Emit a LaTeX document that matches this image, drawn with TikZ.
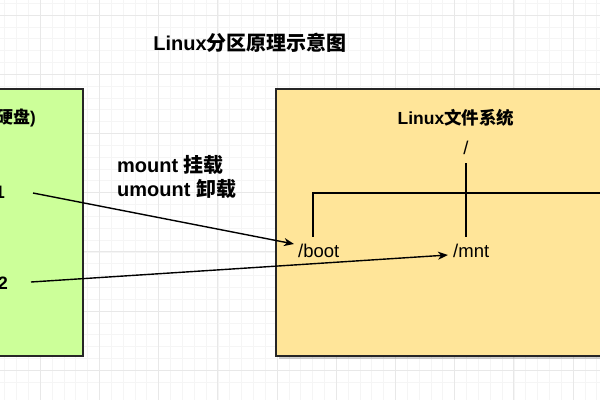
\documentclass[tikz,border=0pt]{standalone}
\usepackage{fontspec}
\setmainfont{Liberation Sans}
\newfontfamily\cjk{Noto Sans CJK SC}
\usetikzlibrary{arrows.meta}
\definecolor{ybox}{HTML}{FFE599}
\definecolor{gbox}{HTML}{CCFF99}
\definecolor{gridmaj}{HTML}{E8E8E8}
\definecolor{gridmin}{HTML}{F5F5F5}
\begin{document}
\begin{tikzpicture}[x=1pt,y=-1pt,
  majgrid/.style={draw=gridmaj, line width=0.8pt},
  mingrid/.style={draw=gridmin, line width=0.6pt},
  boxline/.style={draw=black!85, line width=1.3pt},
  tree/.style={draw=black, line width=1.4pt},
  arr/.style={draw=black, line width=1.4pt, -{Stealth[length=10pt,width=8pt,inset=3pt]}},
  titletxt/.style={inner sep=0pt, font=\fontsize{20}{24}\selectfont\bfseries},
  cmdtxt/.style={inner sep=0pt, font=\fontsize{20}{24}\selectfont\bfseries},
  fstxt/.style={inner sep=0pt, font=\fontsize{17.5}{21}\selectfont\bfseries},
  parttxt/.style={inner sep=0pt, font=\fontsize{18}{22}\selectfont\bfseries},
  pathtxt/.style={inner ysep=0pt, inner xsep=0pt, font=\fontsize{18.5}{22}\selectfont}]
\useasboundingbox (0,0) rectangle (600,400);
\fill[white] (0,0) rectangle (600,400);
% background grid
\begin{scope}
  \clip (0,0) rectangle (600,400);
  \foreach \i in {0,...,55} {
    \draw[mingrid] ({-19+\i*11.84},0) -- ++(0,400);
  }
  \foreach \i in {0,...,36} {
    \draw[mingrid] (0,{-44.2+\i*11.84}) -- ++(600,0);
  }
  \foreach \i in {0,...,11} {
    \draw[majgrid] ({-19+\i*59.2},0) -- ++(0,400);
  }
  \foreach \i in {0,...,7} {
    \draw[majgrid] (0,{-44.2+\i*59.2}) -- ++(600,0);
  }
\end{scope}
% boxes
\fill[black, opacity=0.18] (279,92) rectangle (614,359);
\filldraw[fill=gbox, boxline] (-10,89) rectangle (83,356);
\filldraw[fill=ybox, boxline] (276,89) rectangle (612,356);
% texts
\node[titletxt] (title) at (250,43) {Linux{\cjk 分区原理示意图}};
\node[cmdtxt, anchor=west] (mount) at (117,165) {mount {\cjk 挂载}};
\node[cmdtxt, anchor=west] (umount) at (117,189) {umount {\cjk 卸载}};
\node[parttxt, anchor=east, font=\fontsize{17}{20}\selectfont\bfseries] (disk) at (36,118) {{\cjk 硬盘})};
\node[parttxt, anchor=east] (s1) at (5,192) {1};
\node[parttxt, anchor=east] (s2) at (8,283) {2};
\node[fstxt] (fs) at (456,118) {Linux{\cjk 文件系统}};
\node[pathtxt] (root) at (466,148) {/};
\node[pathtxt, anchor=west, inner xsep=4pt] (boot) at (294,251) {/boot};
\node[pathtxt, anchor=west, inner xsep=5pt] (mnt) at (448,251) {/mnt};
% tree
\coordinate (rootb) at (466,163);
\coordinate (mntt) at (466,237);
\coordinate (bl) at (313,193);
\coordinate (bb) at (313,237);
\coordinate (br) at (612,193);
\draw[tree] (rootb) -- (mntt);
\draw[tree] (br) -- (bl) -- (bb);
% mount arrows
\coordinate (o1) at (33,193);
\coordinate (o2) at (31,282);
\draw[arr] (o1) -- (boot.north west);
\draw[arr] (o2) -- ([yshift=-4pt]mnt.west);
\end{tikzpicture}
\end{document}
